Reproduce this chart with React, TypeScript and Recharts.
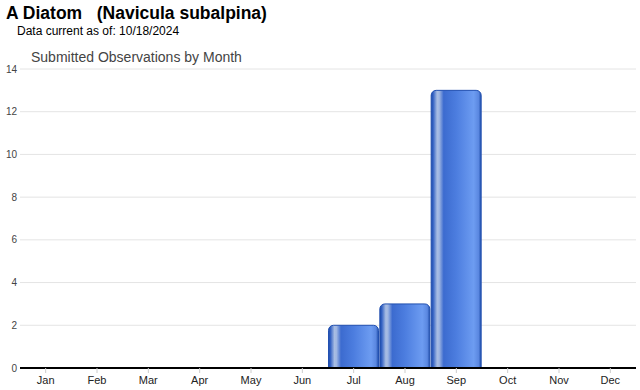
import React from 'react';
import { BarChart, Bar, XAxis, YAxis, CartesianGrid } from 'recharts';

const months = ['Jan', 'Feb', 'Mar', 'Apr', 'May', 'Jun', 'Jul', 'Aug', 'Sep', 'Oct', 'Nov', 'Dec'];
const observations = [0, 0, 0, 0, 0, 0, 2, 3, 13, 0, 0, 0];
const yTicks = [0, 2, 4, 6, 8, 10, 12, 14];

const data = months.map((m, i) => ({ month: m, count: observations[i] }));

const font = 'Arial, "Liberation Sans", sans-serif';

export default function App() {
  return (
    <div style={{ position: 'absolute', left: 0, top: 0, width: 640, height: 390, background: '#fff', fontFamily: font }}>
      <div style={{ position: 'absolute', left: 6, top: 3, fontSize: 17.5, fontWeight: 'bold', whiteSpace: 'pre', color: '#000' }}>
        {'A Diatom   (Navicula subalpina)'}
      </div>
      <div style={{ position: 'absolute', left: 17, top: 24, fontSize: 12, color: '#000' }}>
        Data current as of: 10/18/2024
      </div>
      <div style={{ position: 'absolute', left: 31, top: 49, fontSize: 14, color: '#444' }}>
        Submitted Observations by Month
      </div>
      <BarChart
        width={640}
        height={390}
        data={data}
        margin={{ top: 69, right: 4, bottom: 2, left: 0 }}
        barCategoryGap={0.5}
        style={{ position: 'absolute', left: 0, top: 0 }}
      >
        <defs>
          <linearGradient id="barGrad" x1="0" y1="0" x2="1" y2="0">
            <stop offset="0" stopColor="#1c4aa8" />
            <stop offset="0.04" stopColor="#3563c4" />
            <stop offset="0.12" stopColor="#a8bde3" />
            <stop offset="0.16" stopColor="#9fb6e2" />
            <stop offset="0.25" stopColor="#3c6bcf" />
            <stop offset="0.5" stopColor="#4c7ddf" />
            <stop offset="0.85" stopColor="#6d9cf1" />
            <stop offset="0.95" stopColor="#5a87e0" />
            <stop offset="1" stopColor="#1d4ca8" />
          </linearGradient>
        </defs>
        <CartesianGrid vertical={false} stroke="#e4e4e4" />
        <YAxis
          domain={[0, 14]}
          ticks={yTicks}
          width={20}
          axisLine={false}
          tickLine={false}
          tickSize={0}
          tickMargin={3}
          tick={{ fontSize: 10, fill: '#444', fontFamily: font }}
        />
        <XAxis
          dataKey="month"
          height={20}
          axisLine={{ stroke: '#000', strokeWidth: 2 }}
          tickLine={{ stroke: '#ccc' }}
          tickSize={5}
          tickMargin={3}
          tick={{ fontSize: 11, fill: '#222', fontFamily: font }}
        />
        <Bar
          dataKey="count"
          fill="url(#barGrad)"
          stroke="#2250b0"
          strokeWidth={1}
          radius={[5, 5, 0, 0]}
          isAnimationActive={false}
        />
      </BarChart>
    </div>
  );
}
